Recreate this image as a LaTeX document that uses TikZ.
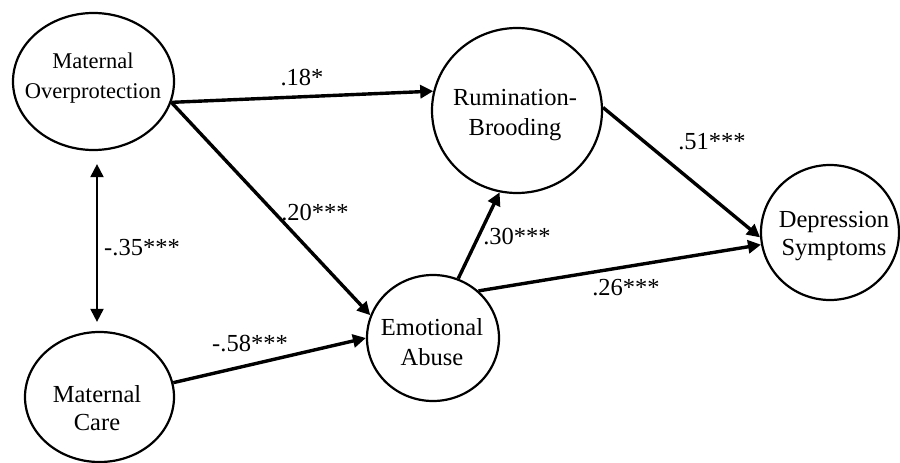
\documentclass[tikz,border=0pt]{standalone}
\usepackage{fontspec}
\setmainfont{Liberation Serif}
\usetikzlibrary{arrows.meta,shapes.geometric}

\begin{document}
\begin{tikzpicture}[x=1pt,y=-1pt,
  latent/.style={draw,ellipse,line width=2.2pt,inner sep=0pt},
  vartext/.style={align=center,inner sep=0pt,font=\fontsize{24.5}{30}\selectfont},
  effect/.style={line width=3.4pt,-{Triangle[length=13pt,width=13pt]}},
  corr/.style={line width=2pt,{Triangle[length=13pt,width=13pt]}-{Triangle[length=13pt,width=13pt]}},
  coef/.style={inner sep=0pt,font=\fontsize{24.5}{30}\selectfont}]
  \useasboundingbox (0,0) rectangle (900,463);
  % latent variables
  \node[latent,minimum width=161pt,minimum height=137pt] (mo) at (93.5,81.5) {};
  \node[latent,minimum width=149pt,minimum height=130pt] (mc) at (99.5,397) {};
  \node[latent,minimum width=132pt,minimum height=126pt] (ea) at (433,338) {};
  \node[latent,minimum width=170pt,minimum height=165pt] (rb) at (517,110.5) {};
  \node[latent,minimum width=138pt,minimum height=135pt] (ds) at (830,232.5) {};
  \node[vartext,font=\fontsize{22.5}{30}\selectfont] (mo-t) at (93,78) {Maternal\\Overprotection};
  \node[vartext,font=\fontsize{24.5}{28}\selectfont] (mc-t) at (97,408) {Maternal\\Care};
  \node[vartext] (ea-t) at (432,342) {Emotional\\Abuse};
  \node[vartext] (rb-t) at (515,115) {Rumination-\\Brooding};
  \node[vartext,font=\fontsize{24.5}{28}\selectfont] (ds-t) at (834,236) {Depression\\Symptoms};
  % paths
  \draw[effect] (mo.-15) -- (rb.167);
  \draw[effect] (mo.-15) -- (ea.160);
  \draw[effect] (mc.11) -- (ea.180);
  \draw[effect] (ea.67) -- (rb.-102);
  \draw[effect] (ea.46) -- (ds.190);
  \draw[effect] (rb.2) -- (ds.184);
  \draw[corr,shorten <=13pt,shorten >=9pt] ([xshift=3.5pt]mo.south) -- ([xshift=3.5pt]mo.south |- mc.north);
  % coefficients
  \foreach \n/\t/\x/\y in {c-mr/.18*/302/78,c-me/.20***/315/213,c-ce/-.58***/250/344,
      c-er/.30***/517/237,c-ed/.26***/626/288,c-rd/.51***/712/142,c-mc/-.35***/142/248}
    \node[coef] (\n) at (\x,\y) {\t};
\end{tikzpicture}
\end{document}
